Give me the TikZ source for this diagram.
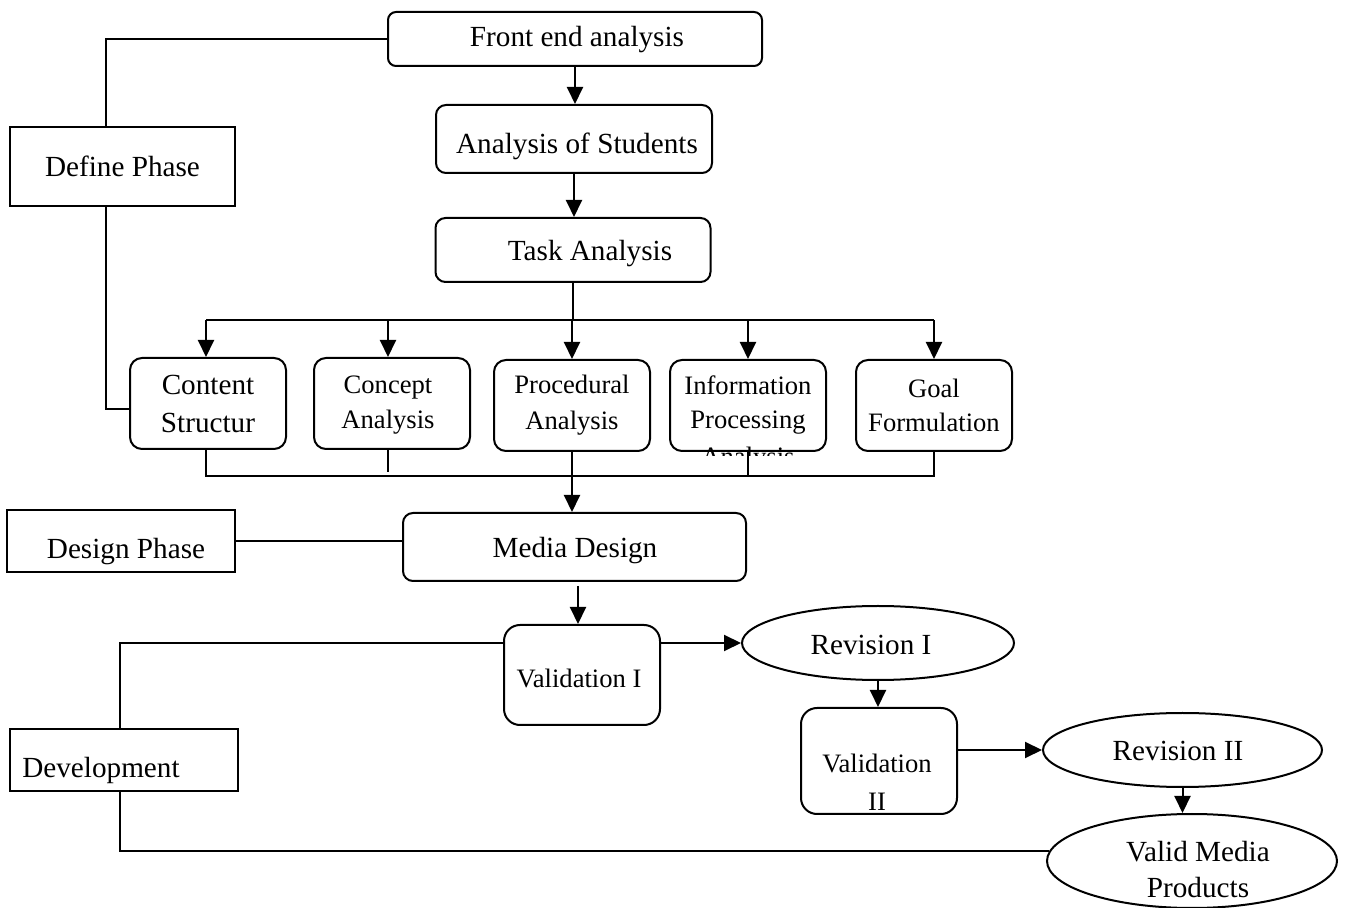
\documentclass[tikz,border=0pt]{standalone}
\usepackage{fontspec}
\setmainfont{Liberation Serif}
\usetikzlibrary{arrows.meta,calc,shapes.geometric}
\begin{document}
\begin{tikzpicture}[x=0.5pt,y=-0.5pt,
 line width=1pt,
 big/.style={font=\fontsize{14.6}{19}\selectfont},
 small/.style={font=\fontsize{13.3}{17}\selectfont},
 rbox/.style={draw, rounded corners=5pt, inner sep=0pt, align=center},
 pbox/.style={draw, inner sep=0pt, align=center},
 oval/.style={draw, ellipse, inner sep=0pt, align=center},
 arr/.style={-{Triangle[length=8.5pt,width=8pt]}},
 txt/.style={inner sep=0pt, align=center}]
\useasboundingbox (0,0) rectangle (1345,908);

% define phase
\node[rbox, rounded corners=4pt, minimum width=187pt, minimum height=27pt] (front) at (575,39) {};
\node[txt, big] (frontT) at (577,40) {Front end analysis};
\node[rbox, minimum width=138pt, minimum height=34pt] (students) at (574,139) {};
\node[txt, big] (studentsT) at (577,146) {Analysis of Students};
\node[rbox, minimum width=137.5pt, minimum height=32pt] (task) at (573,250) {};
\node[txt, big] (taskT) at (590,254) {Task Analysis};
\node[pbox, big, minimum width=112.5pt, minimum height=39.5pt] (define) at (122.5,166.5) {Define Phase};

\node[rbox, rounded corners=6pt, font=\fontsize{14.6}{19}\selectfont, minimum width=78pt, minimum height=45.5pt] (content) at (208,403.5) {Content\\Structur};
\node[rbox, rounded corners=6pt, minimum width=78pt, minimum height=45.5pt] (concept) at (392,403.5) {};
\node[txt, font=\fontsize{13.3}{17.5}\selectfont] (conceptT) at (388,405) {Concept\\Analysis};
\node[rbox, rounded corners=6pt, font=\fontsize{13.3}{18}\selectfont, minimum width=78pt, minimum height=45.5pt] (procedural) at (572,405.5) {Procedural\\Analysis};
\node[rbox, rounded corners=6pt, small, minimum width=78pt, minimum height=45.5pt] (info) at (748,405.5) {Information\\Processing};
\begin{scope}
\clip (670,446) rectangle (826,456);
\node[txt, small] (infoT3) at (748,459) {Analysis};
\end{scope}
\node[rbox, rounded corners=6pt, small, minimum width=78pt, minimum height=45.5pt] (goal) at (934,405.5) {Goal\\Formulation};

% design phase
\node[rbox, minimum width=171.5pt, minimum height=34pt] (media) at (574.5,547) {};
\node[txt, big] (mediaT) at (575,551) {Media Design};
\node[pbox, minimum width=114pt, minimum height=31pt] (design) at (121,541) {};
\node[txt, big] (designT) at (126,552) {Design Phase};

% development
\node[rbox, rounded corners=8pt, minimum width=78pt, minimum height=50pt] (val1) at (582,675) {};
\node[txt, small] (val1T) at (579,678) {Validation I};
\node[pbox, minimum width=114pt, minimum height=31pt] (development) at (124,760) {};
\node[txt, big] (developmentT) at (101,770) {Development};
\node[oval, minimum width=136pt, minimum height=37pt] (rev1) at (878,643) {};
\node[txt, big] (rev1T) at (871,645) {Revision I};
\node[rbox, rounded corners=8pt, minimum width=78pt, minimum height=53pt] (val2) at (879,761) {};
\node[txt, font=\fontsize{13.3}{19}\selectfont] (val2T) at (877,782) {Validation\\II};
\node[oval, minimum width=139.5pt, minimum height=37pt] (rev2) at (1182.5,750) {};
\node[txt, big] (rev2T) at (1178,751) {Revision II};
\node[oval, minimum width=145pt, minimum height=47pt] (valid) at (1192,861) {};
\node[txt, font=\fontsize{14.6}{18}\selectfont] (validT) at (1198,870) {Valid Media\\Products};

% connectors
\draw (front.west) -| ($(define.north)+(-17,0)$);
\draw ($(define.south)+(-17,0)$) |- ($(content.west)+(0,5.5)$);
\draw[arr] (front.south) -- (front.south |- students.north);
\draw[arr] (students.south) -- (students.south |- task.north);
\coordinate (busT) at (572,320);
\draw (task.south) -- (task.south |- busT);
\draw ($(content.north |- busT)+(-2,0)$) -- (goal.north |- busT);
\coordinate (cA) at (206,0);
\coordinate (kA) at (388,0);
\draw[arr] (cA |- busT) -- (cA |- content.north);
\draw[arr] (kA |- busT) -- (kA |- concept.north);
\foreach \n in {procedural,info,goal}
  \draw[arr] (\n.north |- busT) -- (\n.north);
\coordinate (busB) at (572,476);
\draw (cA |- content.south) |- (goal.south |- busB) -- (goal.south);
\draw (kA |- concept.south) -- ($(kA |- busB)+(0,-4)$);
\draw (info.south) -- (info.south |- busB);
\draw[arr] (procedural.south) -- (procedural.south |- media.north);
\draw (design.east) -- (design.east -| media.west);
\path ($(media.south)+(3.5,4)$) coordinate (ms);
\draw[arr] (ms) -- (ms |- val1.north);
\draw[arr] (val1.east |- rev1.west) -- (rev1.west);
\draw (val1.west |- rev1.west) -| ($(development.north)+(-4,0)$);
\draw ($(development.south)+(-4,0)$) |- (valid.176);
\draw[arr] (rev1.south) -- (rev1.south |- val2.north);
\draw[arr] (val2.east |- rev2.west) -- (rev2.west);
\draw[arr] (rev2.south) -- (rev2.south |- valid.north);
\end{tikzpicture}
\end{document}
